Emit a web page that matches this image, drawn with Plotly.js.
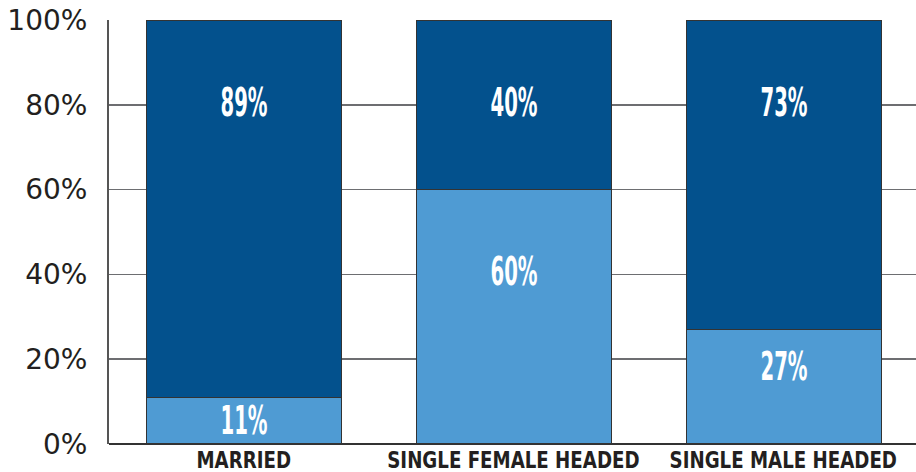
<!DOCTYPE html>
<html>
<head>
<meta charset="utf-8">
<script src="https://cdn.plot.ly/plotly-3.0.1.min.js"></script>
<style>
html,body{margin:0;padding:0;background:#fff;}
#chart{width:916px;height:472px;}
#chart text.annotation-text {
  font-stretch: condensed !important;
  transform-box: fill-box; transform-origin: center; transform: scaleX(0.56);
}
#chart g.annotation[data-index="6"] text.annotation-text,
#chart g.annotation[data-index="7"] text.annotation-text,
#chart g.annotation[data-index="8"] text.annotation-text {
  transform: scaleX(0.88);
}
</style>
</head>
<body>
<div id="chart"></div>
<script>
const categories = ["MARRIED", "SINGLE FEMALE HEADED", "SINGLE MALE HEADED"];
const lightValues = [11, 60, 27];
const darkValues = [89, 40, 73];
const yTickValues = [0, 20, 40, 60, 80, 100];
const yTickLabels = ["0%", "20%", "40%", "60%", "80%", "100%"];

const DARK = "#03518d";
const LIGHT = "#4f9bd3";
const condFamily = "'DejaVu Sans Condensed', 'DejaVu Sans', sans-serif";
const labelFont = {family: condFamily, size: 39, color: "#ffffff", weight: 700};
const catFont = {family: condFamily, size: 23, color: "#231f20", weight: 700};

const traces = [
  {type: "bar", x: categories, y: lightValues, marker: {color: LIGHT, line: {color: "#333333", width: 1.2}}, hoverinfo: "skip"},
  {type: "bar", x: categories, y: darkValues, marker: {color: DARK, line: {color: "#333333", width: 1.2}}, hoverinfo: "skip"}
];

const annotations = [];
categories.forEach((c, i) => {
  const lv = lightValues[i];
  annotations.push({x: c, y: lv >= 20 ? lv * 0.68 : lv / 2, text: lv + "%", showarrow: false, font: labelFont, yanchor: "middle"});
  annotations.push({x: c, y: 100 - 19.5, text: darkValues[i] + "%", showarrow: false, font: labelFont, yanchor: "middle"});
});
categories.forEach((c) => {
  annotations.push({x: c, xref: "x", y: 0, yref: "paper", yanchor: "middle", yshift: -16,
    borderpad: 0, text: c, showarrow: false, font: catFont});
});

const layout = {
  width: 916, height: 472,
  margin: {l: 109, r: 0, t: 20, b: 28},
  paper_bgcolor: "#ffffff", plot_bgcolor: "#ffffff",
  barmode: "stack", bargap: 0.278,
  showlegend: false,
  xaxis: {
    range: [-0.5, 2.489], showgrid: false, zeroline: false, showline: false,
    ticks: "", showticklabels: false, fixedrange: true
  },
  yaxis: {
    range: [0, 100], tickvals: yTickValues, ticktext: yTickLabels,
    showgrid: true, gridcolor: "#6d6e71", gridwidth: 1.5,
    zeroline: true, zerolinecolor: "#333333", zerolinewidth: 2,
    showline: true, linecolor: "#555555", linewidth: 2,
    ticks: "", ticklabelstandoff: 14,
    tickfont: {family: "DejaVu Sans, sans-serif", size: 28, color: "#231f20"},
    fixedrange: true
  },
  annotations: annotations
};

Plotly.newPlot("chart", traces, layout, {displayModeBar: false, staticPlot: true});
</script>
</body>
</html>
